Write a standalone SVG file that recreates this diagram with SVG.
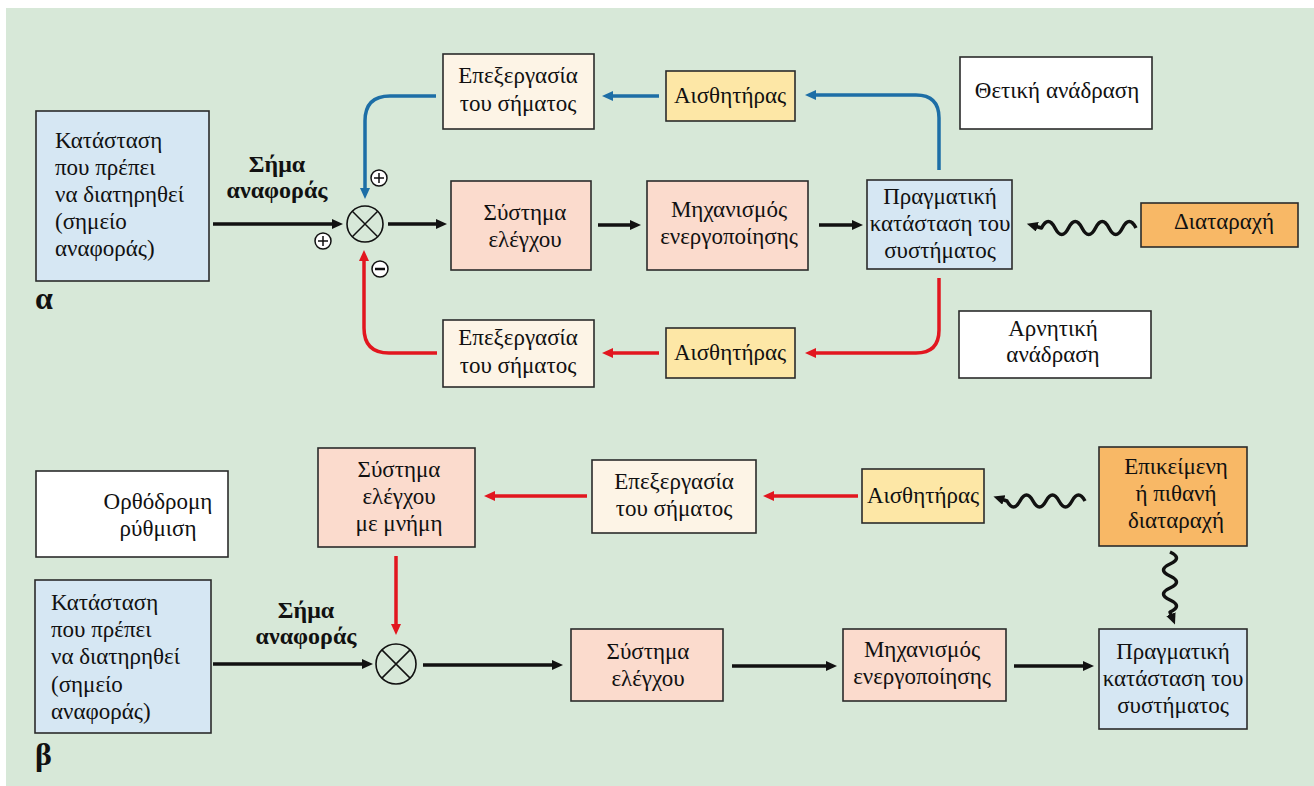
<svg xmlns="http://www.w3.org/2000/svg" width="1314" height="786" viewBox="0 0 1314 786">
<defs>
<style>
.box{stroke:#2b2b2b;stroke-width:1.6}
.lb{fill:#d6e7f3}.cr{fill:#fdf4e6}.ye{fill:#fde7a6}.pk{fill:#fbdbcd}.or{fill:#f8b866}.wh{fill:#ffffff}
.t{font-family:"Liberation Serif","DejaVu Serif",serif;font-size:23px;fill:#111}
.c{text-anchor:middle}
.b{font-family:"Liberation Serif","DejaVu Serif",serif;font-weight:bold;fill:#111}
.k{fill:none;stroke:#111;stroke-width:3.5}
.bl{fill:none;stroke:#1d6ea6;stroke-width:3.5}
.rd{fill:none;stroke:#e2161f;stroke-width:3.5}
.wv{fill:none;stroke:#111;stroke-width:3.5;stroke-linejoin:round}
.sym{fill:#fff;stroke:#111;stroke-width:1.5}
.thin{stroke:#111;stroke-width:1.5;fill:none}
</style>
<marker id="ak" markerUnits="userSpaceOnUse" markerWidth="12" markerHeight="10" refX="3" refY="5" orient="auto"><path d="M0,0 L11,5 L0,10 z" fill="#111"/></marker>
<marker id="ab" markerUnits="userSpaceOnUse" markerWidth="12" markerHeight="10" refX="3" refY="5" orient="auto"><path d="M0,0 L11,5 L0,10 z" fill="#1d6ea6"/></marker>
<marker id="ar" markerUnits="userSpaceOnUse" markerWidth="12" markerHeight="10" refX="3" refY="5" orient="auto"><path d="M0,0 L11,5 L0,10 z" fill="#e2161f"/></marker>
</defs>
<rect x="0" y="0" width="1314" height="786" fill="#ffffff"/>
<rect x="6" y="8" width="1308" height="778" fill="#d7e8d8"/>

<g id="connectors">
<!-- section a -->
<path class="k" d="M213,224 H335" marker-end="url(#ak)"/>
<path class="k" d="M388,224 H439" marker-end="url(#ak)"/>
<path class="k" d="M598,225 H633" marker-end="url(#ak)"/>
<path class="k" d="M819,225 H855" marker-end="url(#ak)"/>
<path class="wv" d="M1136,228 q-6.75,-13 -13.5,0 t-13.5,0 t-13.5,0 t-13.5,0 t-13.5,0 t-13.5,0 t-13.5,0 l-7,-2" marker-end="url(#ak)"/>
<path class="bl" d="M436,96 H390 Q365,96 365,121 V191" marker-end="url(#ab)"/>
<path class="bl" d="M659,96 H610" marker-end="url(#ab)"/>
<path class="bl" d="M939,170 V118 Q939,95 916,95 H813" marker-end="url(#ab)"/>
<path class="rd" d="M437,353 H389 Q364,353 364,328 V258" marker-end="url(#ar)"/>
<path class="rd" d="M659,353 H610" marker-end="url(#ar)"/>
<path class="rd" d="M939,278 V330 Q939,353 916,353 H813" marker-end="url(#ar)"/>
<!-- section b -->
<path class="k" d="M213,664 H365" marker-end="url(#ak)"/>
<path class="k" d="M423,665 H555" marker-end="url(#ak)"/>
<path class="k" d="M732,666 H829" marker-end="url(#ak)"/>
<path class="k" d="M1014,666 H1086" marker-end="url(#ak)"/>
<path class="rd" d="M396,556 V627" marker-end="url(#ar)"/>
<path class="rd" d="M587,496 H492" marker-end="url(#ar)"/>
<path class="rd" d="M858,496 H771" marker-end="url(#ar)"/>
<path class="wv" d="M1085,501 q-6.5,-12 -13,0 t-13,0 t-13,0 t-13,0 t-13,0 t-13,0 l-6,-2" marker-end="url(#ak)"/>
<path class="wv" d="M1170,552 q13,6 0,12 t0,12 t0,12 t0,12 t0,12 l2,5" marker-end="url(#ak)"/>
</g>

<g id="sum-a">
<circle cx="365" cy="224" r="18" fill="none" stroke="#111" stroke-width="1.6"/>
<path class="thin" d="M352.3,211.3 L377.7,236.7 M377.7,211.3 L352.3,236.7"/>
</g>
<g id="sign-plus-input">
<circle class="sym" cx="323" cy="241" r="8"/><path class="thin" d="M318,241 H328 M323,236 V246"/>
</g>
<g id="sign-plus-top">
<circle class="sym" cx="379" cy="178" r="8"/><path class="thin" d="M374,178 H384 M379,173 V183"/>
</g>
<g id="sign-minus">
<circle class="sym" cx="380" cy="269" r="8"/><path class="thin" d="M375,269 H385" style="stroke-width:2.5"/>
</g>
<g id="sum-b">
<circle cx="396" cy="664" r="20" fill="none" stroke="#111" stroke-width="1.6"/>
<path class="thin" d="M381.9,649.9 L410.1,678.1 M410.1,649.9 L381.9,678.1"/>
</g>

<!-- section a nodes -->
<g id="a-reference">
<rect class="box lb" x="36" y="111" width="173" height="170"/>
<text class="t" x="55" y="148">Κατάσταση</text>
<text class="t" x="55" y="175">που πρέπει</text>
<text class="t" x="55" y="202">να διατηρηθεί</text>
<text class="t" x="55" y="229">(σημείο</text>
<text class="t" x="55" y="256">αναφοράς)</text>
</g>
<g id="a-label">
<text class="b" x="35" y="309" style="font-size:32px">α</text>
</g>
<g id="a-signal-label">
<text class="b c" x="277" y="172" style="font-size:24px">Σήμα</text>
<text class="b c" x="277" y="198" style="font-size:24px">αναφοράς</text>
</g>
<g id="a-proc-top">
<rect class="box cr" x="443" y="54" width="151" height="75"/>
<text class="t c" x="518" y="83">Επεξεργασία</text>
<text class="t c" x="518" y="111">του σήματος</text>
</g>
<g id="a-sensor-top">
<rect class="box ye" x="666" y="71" width="129" height="50"/>
<text class="t c" x="730" y="103">Αισθητήρας</text>
</g>
<g id="a-positive">
<rect class="box wh" x="960" y="57" width="192" height="72"/>
<text class="t c" x="1057" y="98">Θετική ανάδραση</text>
</g>
<g id="a-control">
<rect class="box pk" x="451" y="181" width="140" height="89"/>
<text class="t c" x="525" y="220">Σύστημα</text>
<text class="t c" x="525" y="247">ελέγχου</text>
</g>
<g id="a-actuator">
<rect class="box pk" x="647" y="181" width="161" height="89"/>
<text class="t c" x="729" y="217">Μηχανισμός</text>
<text class="t c" x="729" y="244">ενεργοποίησης</text>
</g>
<g id="a-actual">
<rect class="box lb" x="867" y="180" width="145" height="89"/>
<text class="t c" x="940" y="204">Πραγματική</text>
<text class="t c" x="940" y="231">κατάσταση του</text>
<text class="t c" x="940" y="258">συστήματος</text>
</g>
<g id="a-disturbance">
<rect class="box or" x="1141" y="203" width="157" height="44"/>
<text class="t c" x="1224" y="229">Διαταραχή</text>
</g>
<g id="a-proc-bottom">
<rect class="box cr" x="443" y="320" width="151" height="67"/>
<text class="t c" x="518" y="345">Επεξεργασία</text>
<text class="t c" x="518" y="373">του σήματος</text>
</g>
<g id="a-sensor-bottom">
<rect class="box ye" x="666" y="328" width="129" height="50"/>
<text class="t c" x="730" y="360">Αισθητήρας</text>
</g>
<g id="a-negative">
<rect class="box wh" x="959" y="311" width="192" height="67"/>
<text class="t c" x="1053" y="336">Αρνητική</text>
<text class="t c" x="1053" y="362">ανάδραση</text>
</g>

<!-- section b nodes -->
<g id="b-feedforward">
<rect class="box wh" x="36" y="471" width="192" height="86"/>
<text class="t c" x="158" y="509">Ορθόδρομη</text>
<text class="t c" x="158" y="536">ρύθμιση</text>
</g>
<g id="b-reference">
<rect class="box lb" x="35" y="580" width="176" height="153"/>
<text class="t" x="51" y="610">Κατάσταση</text>
<text class="t" x="51" y="637">που πρέπει</text>
<text class="t" x="51" y="664">να διατηρηθεί</text>
<text class="t" x="51" y="692">(σημείο</text>
<text class="t" x="51" y="719">αναφοράς)</text>
</g>
<g id="b-label">
<text class="b" x="35" y="765" style="font-size:32px">β</text>
</g>
<g id="b-signal-label">
<text class="b c" x="306" y="618" style="font-size:24px">Σήμα</text>
<text class="b c" x="306" y="644" style="font-size:24px">αναφοράς</text>
</g>
<g id="b-memory">
<rect class="box pk" x="318" y="448" width="157" height="99"/>
<text class="t c" x="399" y="477">Σύστημα</text>
<text class="t c" x="399" y="504">ελέγχου</text>
<text class="t c" x="399" y="531">με μνήμη</text>
</g>
<g id="b-proc">
<rect class="box cr" x="592" y="460" width="164" height="73"/>
<text class="t c" x="674" y="489">Επεξεργασία</text>
<text class="t c" x="674" y="516">του σήματος</text>
</g>
<g id="b-sensor">
<rect class="box ye" x="862" y="469" width="122" height="54"/>
<text class="t c" x="923" y="503">Αισθητήρας</text>
</g>
<g id="b-disturbance">
<rect class="box or" x="1099" y="447" width="148" height="99"/>
<text class="t c" x="1176" y="474">Επικείμενη</text>
<text class="t c" x="1176" y="501">ή πιθανή</text>
<text class="t c" x="1176" y="528">διαταραχή</text>
</g>
<g id="b-control">
<rect class="box pk" x="571" y="629" width="152" height="72"/>
<text class="t c" x="648" y="659">Σύστημα</text>
<text class="t c" x="648" y="686">ελέγχου</text>
</g>
<g id="b-actuator">
<rect class="box pk" x="843" y="629" width="163" height="72"/>
<text class="t c" x="922" y="657">Μηχανισμός</text>
<text class="t c" x="922" y="684">ενεργοποίησης</text>
</g>
<g id="b-actual">
<rect class="box lb" x="1099" y="629" width="148" height="100"/>
<text class="t c" x="1173" y="659">Πραγματική</text>
<text class="t c" x="1173" y="686">κατάσταση του</text>
<text class="t c" x="1173" y="713">συστήματος</text>
</g>
</svg>
